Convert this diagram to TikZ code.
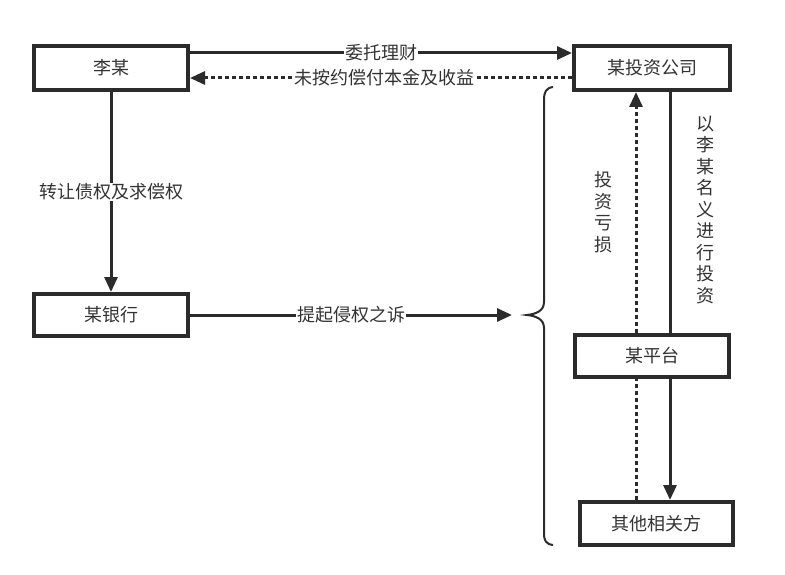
\documentclass[tikz,border=0pt]{standalone}
\usepackage{fontspec}
\setmainfont{Noto Sans CJK SC}
\usetikzlibrary{arrows.meta}
\definecolor{ln}{HTML}{2B2B2B}
\definecolor{tx}{HTML}{333333}
\tikzset{
  box/.style={draw=ln, line width=4pt, fill=white, text=tx, font=\fontsize{18}{21.5}\selectfont, inner sep=0pt},
  lbl/.style={fill=white, text=tx, font=\fontsize{18}{21.5}\selectfont, inner sep=1pt},
  vlbl/.style={text=tx, font=\fontsize{18}{21.5}\selectfont, align=center, inner sep=0pt},
  solidarr/.style={draw=ln, line width=3pt},
  dotarr/.style={draw=ln, line width=3pt, dash pattern=on 4pt off 3pt},
  tip/.style={-{Triangle[length=15pt,width=13pt]}}
}
\begin{document}
\begin{tikzpicture}[x=1pt,y=-1pt]
\useasboundingbox[fill=white] (0,0) rectangle (785,575);
\node[box, minimum width=154pt, minimum height=44pt] (li) at (111,68) {李某};
\node[box, minimum width=156pt, minimum height=44pt] (inv) at (652,68) {某投资公司};
\node[box, minimum width=154pt, minimum height=42pt] (bank) at (111,315) {某银行};
\node[box, minimum width=154pt, minimum height=42pt] (plat) at (652,356) {某平台};
\node[box, minimum width=153pt, minimum height=43pt] (other) at (656.5,523.5) {其他相关方};
\coordinate (xL) at (636,0);
\coordinate (xR) at (670,0);
\coordinate (bt) at (512,315);
% top arrows
\draw[solidarr, tip] ([yshift=15pt]li.east) -- ([yshift=15pt]inv.west)
  node[lbl, midway] (l1) {委托理财};
\draw[dotarr, tip] ([yshift=-10pt]inv.west) -- ([yshift=-10pt]li.east)
  node[lbl, pos=0.49] (l2) {未按约偿付本金及收益};
% left vertical
\draw[solidarr, tip] (li.south) -- (bank.north)
  node[lbl, pos=0.5] (l3) {转让债权及求偿权};
% bank arrow
\draw[solidarr, tip] (bank.east) -- (bt)
  node[lbl, pos=0.5] (l4) {提起侵权之诉};
% right verticals
\draw[dotarr] (other.north -| xL) -- (plat.south -| xL);
\draw[dotarr, tip] (plat.north -| xL) -- (inv.south -| xL);
\draw[solidarr] (inv.south -| xR) -- (plat.north -| xR);
\draw[solidarr, tip] (plat.south -| xR) -- (other.north -| xR);
\node[vlbl] (l5) at (603,212) {投\\资\\亏\\损};
\node[vlbl] (l6) at (705,210) {以\\李\\某\\名\\义\\进\\行\\投\\资};
% brace
\draw[draw=ln, line width=2pt] (553,87) .. controls (546,88) and (544,92) .. (544,100)
  -- (544,302) .. controls (544,311) and (536,314) .. (527,315)
  .. controls (536,316) and (544,319) .. (544,328)
  -- (544,533) .. controls (544,541) and (546,544) .. (553,545);
\end{tikzpicture}
\end{document}
